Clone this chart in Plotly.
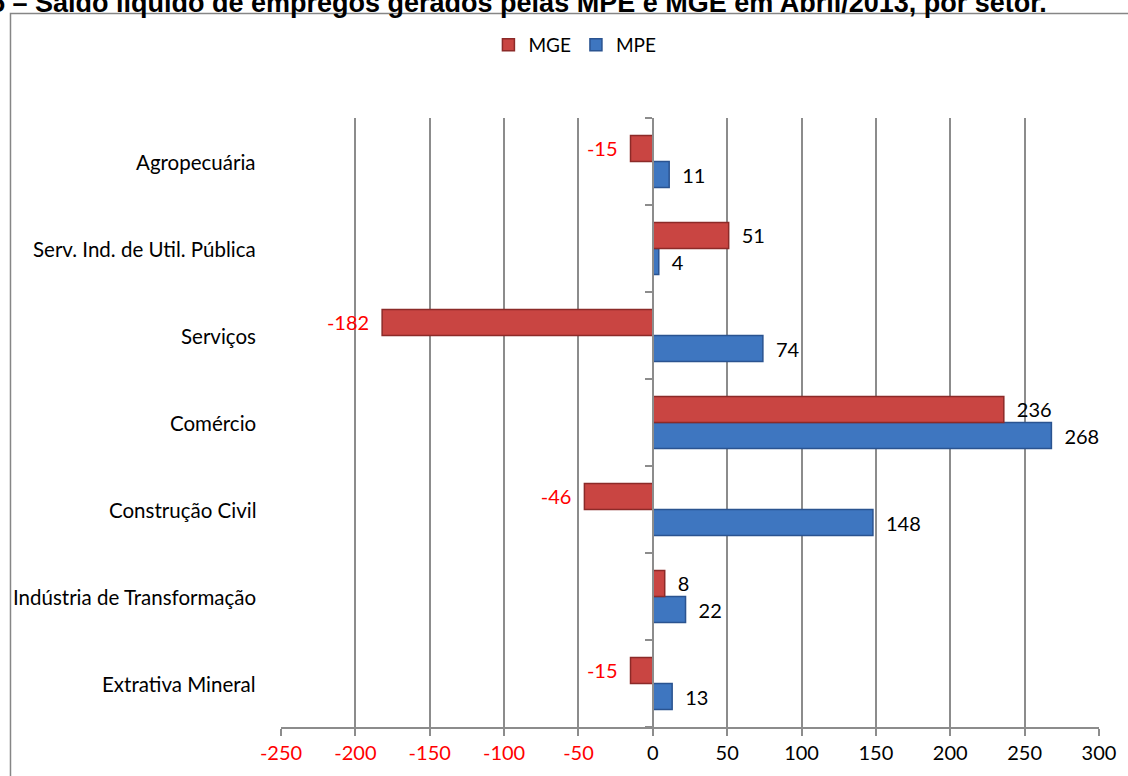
import plotly.graph_objects as go

categories = ["Extrativa Mineral", "Indústria de Transformação", "Construção Civil",
              "Comércio", "Serviços", "Serv. Ind. de Util. Pública", "Agropecuária"]
mge = [-15, 8, -46, 236, -182, 51, -15]
mpe = [13, 22, 148, 268, 74, 4, 11]
x_ticks = [-250, -200, -150, -100, -50, 0, 50, 100, 150, 200, 250, 300]
title_text = "5 – Saldo líquido de empregos gerados pelas MPE e MGE em Abril/2013, por setor."

FONT = "Lato"
W, H = 1128, 776
L, R, T, B = 281, 26, 118, 49
pw, ph = W - L - R, H - T - B


def px_x(p):
    return (p - L) / pw


def px_y(p):
    return (H - B - p) / ph


def label(v):
    return f"\u2002{v}" if v >= 0 else f"{v}\u2002"


def colors(vals):
    return ["#FF0000" if v < 0 else "#000000" for v in vals]


fig = go.Figure()
fig.add_trace(go.Bar(
    name="MPE", y=categories, x=mpe, orientation="h",
    marker=dict(color="#3E76C0", line=dict(color="#2A5390", width=1.5)),
    text=[label(v) for v in mpe], textposition="outside",
    textfont=dict(family=FONT, size=20, color=colors(mpe)),
    cliponaxis=False,
))
fig.add_trace(go.Bar(
    name="MGE", y=categories, x=mge, orientation="h",
    marker=dict(color="#C94542", line=dict(color="#8C2A28", width=1.5)),
    text=[label(v) for v in mge], textposition="outside",
    textfont=dict(family=FONT, size=20, color=colors(mge)),
    cliponaxis=False,
))

for c in categories:
    fig.add_annotation(x=px_x(258), xref="paper", y=c, yref="y", text=c,
                       showarrow=False, xanchor="right", yanchor="middle",
                       font=dict(family=FONT, size=20.5, color="#000000"))

fig.add_annotation(x=px_x(1052), xref="paper", y=px_y(3), yref="paper",
                   text=f"<b>{title_text}</b>", showarrow=False,
                   xanchor="right", yanchor="middle",
                   font=dict(family="Liberation Sans, Arial", size=27, color="#000000"))

# outer chart frame
fig.add_shape(type="rect", xref="paper", yref="paper",
              x0=px_x(9.5), x1=px_x(1140), y0=px_y(13.5), y1=px_y(800),
              line=dict(color="#868686", width=1.5), fillcolor="rgba(0,0,0,0)", layer="below")

tick_text = [f'<span style="color:#FF0000">{t}</span>' if t < 0 else str(t) for t in x_ticks]

fig.update_layout(
    width=W, height=H,
    margin=dict(l=L, r=R, t=T, b=B, pad=0),
    paper_bgcolor="white", plot_bgcolor="white",
    barmode="group", bargap=0.40, bargroupgap=0.0,
    font=dict(family=FONT, size=20, color="#000000"),
    showlegend=True,
    legend=dict(orientation="h", traceorder="reversed", x=px_x(576), xanchor="center",
                y=px_y(45), yanchor="middle", font=dict(family=FONT, size=19),
                itemwidth=30, tracegroupgap=0, bgcolor="rgba(0,0,0,0)"),
    xaxis=dict(range=[-250, 300], tickvals=x_ticks, ticktext=tick_text,
               showgrid=True, gridcolor="#8C8C8C", gridwidth=1.5,
               zeroline=False, showline=True, linecolor="#8C8C8C", linewidth=1.5,
               ticks="outside", ticklen=7, tickcolor="#8C8C8C", tickwidth=1.5,
               tickfont=dict(family=FONT, size=20), fixedrange=True),
    yaxis=dict(type="category", categoryorder="array", categoryarray=categories,
               range=[-0.5, len(categories) - 0.5],
               anchor="free", position=250 / 550,
               showline=True, linecolor="#8C8C8C", linewidth=1.5,
               ticks="outside", tickson="boundaries", ticklen=7,
               tickcolor="#8C8C8C", tickwidth=1.5,
               showticklabels=False, showgrid=False, zeroline=False, fixedrange=True),
)

fig.write_html("out.html", config={"displayModeBar": False},
               post_script="document.body.style.margin='0px';")
